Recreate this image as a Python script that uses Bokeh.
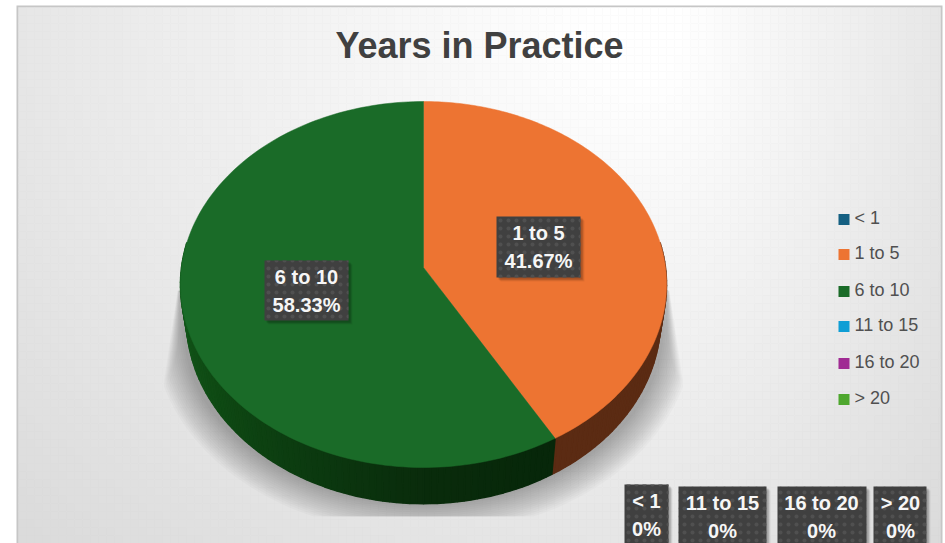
import numpy as np
from bokeh.core.properties import value
from bokeh.embed import file_html
from bokeh.models import ColumnDataSource
from bokeh.plotting import figure
from bokeh.resources import INLINE

# Chart values
categories = ["< 1", "1 to 5", "6 to 10", "11 to 15", "16 to 20", "> 20"]
shares = [0.0, 41.67, 58.33, 0.0, 0.0, 0.0]
share_labels = ["0%", "41.67%", "58.33%", "0%", "0%", "0%"]
colors = ["#156082", "#ed7432", "#1a6b28", "#0f9ed5", "#a02b93", "#4ea72e"]
title = "Years in Practice"

# Layout, in page pixels
W, H = 945, 543
CX = 423
TOP_FACE = dict(apex=267.0, sx=242.0, sy=181.4)
BASE_FACE = dict(apex=302.0, sx=236.0, sy=182.5)
TILT = 0.0929
LEGEND_X, LEGEND_Y = 843.5, [219, 254, 291, 326, 363, 399]
BOXES = {
    "< 1": (624, 668, 484, 543, 646),
    "1 to 5": (496, 580, 216, 277, 538),
    "6 to 10": (264, 348, 260, 320, 306),
    "11 to 15": (678, 766, 486, 543, 722),
    "16 to 20": (777, 866, 486, 543, 821),
    "> 20": (873, 926, 486, 543, 900),
}
SIDE_STOPS = {
    "1 to 5": ([150, 360], ["#5b2b13", "#5b2b13"]),
    "6 to 10": ([150, 180, 205, 235, 270, 300], ["#07270a", "#0a2c0c", "#0c3a10", "#0f4a14", "#14591b", "#14591b"]),
}
WALL_ARC = (82, 278)
PANEL = (18, 940, 7, 543)
CELL = 8


def hex_rgb(c):
    return np.array([int(c[i:i + 2], 16) for i in (1, 3, 5)], dtype=float)


def rim(deg, face):
    """Project a clockwise-from-top pie angle onto a tilted disc."""
    t = np.radians(deg)
    sx, sy = np.sin(t), -np.cos(t)
    w = 1 - TILT * sy
    return CX + face["sx"] * sx / w, face["apex"] + face["sy"] * sy / w


p = figure(width=W, height=H, x_range=(0, W), y_range=(H, 0), output_backend="svg",
           toolbar_location=None, min_border=0, outline_line_color=None)
p.axis.visible = False
p.grid.visible = False
p.background_fill_color = "white"
p.border_fill_color = "white"

# Panel frame, then its soft gradient as a grid of small cells
p.quad(left=[PANEL[0] - 2], right=[PANEL[1] + 2], top=[PANEL[2] - 2], bottom=[H],
       fill_color="#c6c6c6", line_color=None)
xe = np.r_[np.arange(PANEL[0], PANEL[1], CELL), PANEL[1]]
ye = np.r_[np.arange(PANEL[2], PANEL[3], CELL), PANEL[3]]
xl, yt = np.meshgrid(xe[:-1], ye[:-1])
xr, yb = np.meshgrid(xe[1:], ye[1:])
dx = (xl + xr) / 2 - 650
dy = (yt + yb) / 2 - 30
dist = np.hypot(np.where(dx < 0, dx / 2.15, dx), dy / 1.7)
grey = np.clip(258 - 0.093 * dist, 205, 255).astype(int)
cell_colors = ["#%02x%02x%02x" % (g, g, g) for g in grey.ravel()]
p.quad(left=xl.ravel(), right=xr.ravel(), top=yt.ravel(), bottom=yb.ravel(),
       fill_color=cell_colors, line_color=cell_colors, line_width=0.5)

# Soft ground shadow, stacked from wide to narrow
angles = np.linspace(0, 360, 181)
for g in np.linspace(30, 0, 16):
    sx = CX + (240 + g) * np.sin(np.radians(angles))
    sy = 330 + (174 + g) * -np.cos(np.radians(angles))
    sy = np.clip(sy, 290, 516)
    limit = 243 + (sy - 290) * 0.15 * g / 30 + g * 0.1
    sx = np.clip(sx, CX - limit, CX + limit)
    p.patch(sx, sy, fill_color="black", fill_alpha=0.02, line_color=None)

# Slices: side wall strips, then the top face
start = 0.0
total = sum(shares)
for name, share, color in zip(categories, shares, colors):
    if share == 0:
        continue
    stop = start + 360 * share / total
    stops, cols = SIDE_STOPS[name]
    rgb = np.array([hex_rgb(c) for c in cols])
    lo, hi = max(start, WALL_ARC[0]), min(stop, WALL_ARC[1])
    edges = np.r_[np.arange(lo, hi, 1.5), hi]
    for a0, a1 in zip(edges[:-1], edges[1:]):
        xa, ya = rim(np.array([a0, a1]), TOP_FACE)
        xb, yb_ = rim(np.array([a1, a0]), BASE_FACE)
        mid = (a0 + a1) / 2
        c = [np.interp(mid, stops, rgb[:, i]) for i in range(3)]
        col = "#%02x%02x%02x" % tuple(int(v) for v in c)
        p.patch(np.r_[xa, xb], np.r_[ya, yb_], fill_color=col, line_color=col, line_width=1.5)
    start = stop

start = 0.0
for name, share, color in zip(categories, shares, colors):
    if share == 0:
        continue
    stop = start + 360 * share / total
    arc = np.linspace(start, stop, 160)
    rx, ry = rim(arc, TOP_FACE)
    p.patch(np.r_[CX, rx], np.r_[TOP_FACE["apex"], ry], fill_color=color, line_color=color, line_width=0.5)
    start = stop

# Data label boxes
for name, pct in zip(categories, share_labels):
    x0, x1, y0, y1, xc = BOXES[name]
    for off, alpha in ((4, 0.06), (3, 0.1), (2, 0.14)):
        p.quad(left=[x0 + off], right=[x1 + off], top=[y0 + off], bottom=[y1 + off],
               fill_color="black", fill_alpha=alpha, line_color=None)
    p.quad(left=[x0], right=[x1], top=[y0], bottom=[y1], fill_color="#404040", line_color=None,
           hatch_pattern="dot", hatch_color="#505050", hatch_scale=8, hatch_weight=1.0)
    lines = ColumnDataSource(dict(x=[xc, xc], y=[y0 + 16, y0 + 44], t=[name, pct]))
    p.text(x="x", y="y", text="t", source=lines, text_color="#f6f6f6", text_align="center",
           text_baseline="middle", text_font=value("Liberation Sans"), text_font_style="bold",
           text_font_size="20px")

# Title
p.text(x=[479], y=[45], text=[title], text_color="#404040", text_align="center", text_baseline="middle",
       text_font=value("Liberation Sans"), text_font_style="bold", text_font_size="36px")

# Legend
legend = ColumnDataSource(dict(x=[LEGEND_X] * 6, y=LEGEND_Y, ty=[v - 2 for v in LEGEND_Y], c=colors, t=categories))
p.scatter(x="x", y="y", source=legend, marker="square", size=11, fill_color="c", line_color=None)
p.text(x=LEGEND_X + 10.5, y="ty", text="t", source=legend, text_color="#505050", text_baseline="middle",
       text_font=value("Liberation Sans"), text_font_size="18px")

open("out.html", "w").write(file_html(p, INLINE))
